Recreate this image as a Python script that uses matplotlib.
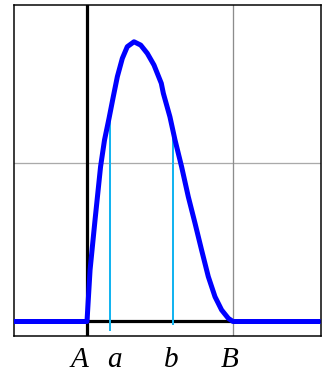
import matplotlib
matplotlib.use("Agg")
import matplotlib.pyplot as plt

# curve data: A at x=0, B at x=1
curve_x = [-0.5, 0.0, 0.021, 0.055, 0.093, 0.120, 0.151, 0.180, 0.208, 0.242, 0.276,
           0.322, 0.368, 0.413, 0.459, 0.509, 0.523, 0.568, 0.603, 0.648, 0.694,
           0.740, 0.785, 0.831, 0.877, 0.922, 0.968, 1.0, 1.6]
curve_y = [0.0, 0.0, 0.325, 0.64, 0.977, 1.145, 1.282, 1.418, 1.545, 1.66, 1.734,
           1.765, 1.744, 1.692, 1.618, 1.503, 1.44, 1.292, 1.145, 0.977, 0.787,
           0.62, 0.451, 0.283, 0.156, 0.073, 0.02, 0.0, 0.0]

# vertical markers a and b
mark_x = [0.158, 0.589]
mark_top = [1.28, 1.16]
mark_bottom = [-0.054, -0.016]

label_text = ["A", "a", "b", "B"]
label_x = [-0.05, 0.19, 0.58, 0.98]

px = 0.72  # points per pixel at dpi 100

fig = plt.figure(figsize=(3.23, 3.71), dpi=100)
ax = fig.add_axes([14/323, 35/371, 307/323, 331/371])
ax.set_xlim(-0.5, 1.603)
ax.set_ylim(-0.0915, 1.997)

# grid lines
ax.axhline(1.0, color="#aaaaaa", lw=1.3*px, zorder=1)
ax.axvline(1.0, color="#8c8c8c", lw=1.3*px, zorder=1)

# axes lines
ax.axvline(0.0, color="black", lw=3.2*px, zorder=2)
ax.axhline(0.0, color="black", lw=3.2*px, zorder=2)

# cyan markers
for xm, yt, yb in zip(mark_x, mark_top, mark_bottom):
    ax.plot([xm, xm], [yb, yt], color="#14b4f0", lw=2*px, zorder=3, clip_on=False)

# curve
ax.plot(curve_x, curve_y, color="#0000ff", lw=5*px, zorder=4,
        solid_joinstyle="round", solid_capstyle="butt")

ax.set_xticks([])
ax.set_yticks([])
for s in ax.spines.values():
    s.set_linewidth(1.5*px)
    s.set_color("black")

trans = ax.get_xaxis_transform()
for t, xl in zip(label_text, label_x):
    ax.text(xl, -0.094, t, transform=trans, ha="center", va="baseline",
            fontsize=21, fontstyle="italic", family="Liberation Serif")

fig.savefig("out.png", dpi=100)
